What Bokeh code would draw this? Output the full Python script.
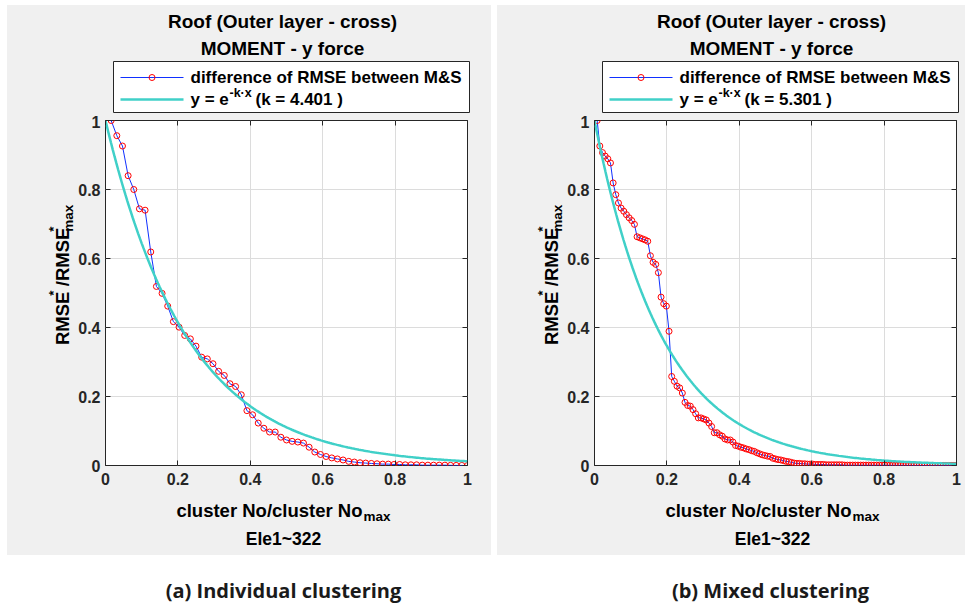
import math
import numpy as np
from bokeh.plotting import figure
from bokeh.models import (LinearAxis, FixedTicker, NumeralTickFormatter,
                          CustomJSTickFormatter, Spacer, Range1d)
from bokeh.layouts import row, column
from bokeh.embed import file_html
from bokeh.resources import INLINE
from bokeh.core.properties import value

# ---------------- data ----------------
title_line1 = "Roof (Outer layer - cross)"
title_line2 = "MOMENT - y force"
legend_diff = "difference of RMSE between M&S"
element_text = "Ele1~322"
captions = ["(a) Individual clustering", "(b) Mixed clustering"]
tick_values = [0, 0.2, 0.4, 0.6, 0.8, 1]

k_left = 4.401
k_right = 5.301

left_rmse = [1.0, 0.956, 0.926, 0.840, 0.800, 0.744, 0.740, 0.619, 0.519, 0.499,
             0.462, 0.417, 0.401, 0.377, 0.367, 0.346, 0.314, 0.309, 0.295, 0.273,
             0.261, 0.237, 0.229, 0.205, 0.159, 0.147, 0.123, 0.108, 0.097, 0.097,
             0.082, 0.074, 0.070, 0.068, 0.065, 0.053, 0.039, 0.032, 0.026, 0.022,
             0.019, 0.016, 0.012, 0.010, 0.008, 0.007, 0.006, 0.005, 0.004, 0.004,
             0.003, 0.003, 0.002, 0.002, 0.002, 0.001, 0.001, 0.001, 0.001, 0.001,
             0.0005, 0.0003, 0.0002, 0.0]

right_rmse = [1.0, 0.926, 0.907, 0.897, 0.889, 0.877, 0.819, 0.785, 0.761, 0.746,
              0.737, 0.727, 0.718, 0.710, 0.699, 0.663, 0.660, 0.657, 0.654, 0.650,
              0.608, 0.589, 0.583, 0.559, 0.488, 0.469, 0.462, 0.389, 0.258, 0.244,
              0.230, 0.225, 0.210, 0.183, 0.174, 0.172, 0.162, 0.150, 0.138, 0.138,
              0.135, 0.132, 0.123, 0.113, 0.095, 0.095, 0.089, 0.085, 0.077, 0.074,
              0.074, 0.068, 0.058, 0.056, 0.053, 0.051, 0.048, 0.046, 0.043, 0.041,
              0.037, 0.034, 0.031, 0.029, 0.027, 0.026, 0.021, 0.019, 0.017, 0.016,
              0.014, 0.012, 0.011, 0.009, 0.007, 0.006, 0.006, 0.005, 0.005, 0.004,
              0.004, 0.004, 0.003, 0.003, 0.003, 0.003, 0.002, 0.002, 0.002, 0.002,
              0.002, 0.002, 0.002, 0.001, 0.001, 0.001, 0.001, 0.001, 0.001, 0.001,
              0.001, 0.001, 0.001, 0.001, 0.001, 0.001, 0.001, 0.001, 0.001, 0.001,
              0.0008, 0.0008, 0.0007, 0.0007, 0.0006, 0.0006, 0.0005, 0.0005, 0.0004, 0.0004,
              0.0003, 0.0003, 0.0003, 0.0002, 0.0002, 0.0002, 0.0002, 0.0001, 0.0001, 0.0001,
              0.0001, 0.0001, 0.00005, 0.00005, 0.00002, 0.0]

# ---------------- style / layout ----------------
FONT = "Liberation Sans"
GREY = "#f0f0f0"
AXC = "#262626"
BLUE = "#1030ff"
RED = "#ff0000"
CYAN = "#40d0c8"
FW, FH = 362, 345           # plot frame size (px)
HEAD_H, MID_H, FOOT_H = 110, 378, 62
TOP_B, BOT_B, TICK_B = 5, 28, 30   # borders of the plot figure
GREY_STYLE = {"background-color": GREY}


def deco_fig(w, h, xr, yr):
    f = figure(width=w, height=h, x_range=Range1d(*xr), y_range=Range1d(*yr),
               min_border=0, toolbar_location=None, output_backend="svg",
               x_axis_location=None, y_axis_location=None)
    f.grid.visible = False
    f.outline_line_color = None
    f.background_fill_color = GREY
    f.border_fill_color = GREY
    return f


def txt(f, x, y, s, size, align="center", baseline="middle", angle=0.0, color="#000000"):
    f.text(x=[x], y=[y], text=[s], text_font=value(FONT),
           text_font_size=f"{size}px", text_font_style="bold",
           text_align=align, text_baseline=baseline, angle=angle,
           text_color=color)


def make_panel(rmse, k, width, L):
    """L = distance (px) from panel left edge to the plot frame."""
    ylab_w = L - TICK_B
    right_b = width - L - FW

    # ---------- header: titles + legend ----------
    head = deco_fig(width, HEAD_H, (-L, width - L), (FH + TOP_B, FH + TOP_B + HEAD_H))
    txt(head, 177, 444, title_line1, 19)
    txt(head, 177, 417, title_line2, 19)
    head.quad(left=[8], right=[364], bottom=[353], top=[404],
              fill_color="white", line_color=AXC, line_width=1)
    r1, r2 = 388, 366
    head.line([15, 78], [r1, r1], line_color=BLUE, line_width=1)
    head.scatter([46.5], [r1], marker="circle", size=6, fill_color=None,
                 line_color=RED, line_width=1)
    txt(head, 85, r1, legend_diff, 17, align="left")
    head.line([15, 78], [r2, r2], line_color=CYAN, line_width=2.5)
    txt(head, 85, r2, "y = e", 17, align="left")
    txt(head, 124, r2 + 7, "-k\u00b7x", 12.5, align="left")
    txt(head, 150, r2, f"(k = {k} )", 17, align="left")

    # ---------- y label ----------
    ylab = deco_fig(ylab_w, MID_H, (-L, -TICK_B), (-BOT_B, FH + TOP_B))
    a = math.pi / 2
    txt(ylab, -43, 104, "RMSE", 18.5, align="left", baseline="alphabetic", angle=a)
    txt(ylab, -52, 158, "*", 13.5, align="left", baseline="alphabetic", angle=a)
    txt(ylab, -43, 168.5, "/RMSE", 18.5, align="left", baseline="alphabetic", angle=a)
    txt(ylab, -52, 228, "*", 13.5, align="left", baseline="alphabetic", angle=a)
    txt(ylab, -37, 228, "max", 13.5, align="left", baseline="alphabetic", angle=a)

    # ---------- plot ----------
    n = len(rmse)
    cluster_ratio = [(i + 1) / n for i in range(n)]
    p = figure(width=width - ylab_w, height=MID_H, output_backend="svg",
               toolbar_location=None, x_range=Range1d(0, 1), y_range=Range1d(0, 1),
               min_border_left=TICK_B, min_border_right=right_b,
               min_border_top=TOP_B, min_border_bottom=BOT_B)
    p.border_fill_color = GREY
    p.background_fill_color = "white"
    p.outline_line_color = AXC
    p.outline_line_width = 1
    for ax, standoff in [(p.xaxis[0], 7), (p.yaxis[0], 5)]:
        ax.ticker = FixedTicker(ticks=tick_values)
        ax.formatter = NumeralTickFormatter(format="0.[0]")
        ax.major_tick_in = 5
        ax.major_tick_out = 0
        ax.minor_tick_line_color = None
        ax.axis_line_color = None
        ax.major_tick_line_color = AXC
        ax.major_label_text_font = FONT
        ax.major_label_text_font_style = "bold"
        ax.major_label_text_font_size = "16px"
        ax.major_label_text_color = AXC
        ax.major_label_standoff = standoff
    for loc in ["above", "right"]:
        ax = LinearAxis(ticker=FixedTicker(ticks=tick_values),
                        formatter=CustomJSTickFormatter(code="return ''"),
                        major_label_text_font_size="1px", major_label_standoff=0,
                        major_tick_in=5, major_tick_out=0,
                        minor_tick_line_color=None, axis_line_color=None,
                        major_tick_line_color=AXC)
        p.add_layout(ax, loc)
    p.xgrid.ticker = FixedTicker(ticks=tick_values)
    p.ygrid.ticker = FixedTicker(ticks=tick_values)
    p.grid.grid_line_color = "#dcdcdc"
    p.grid.grid_line_width = 1

    p.line(cluster_ratio, rmse, line_color=BLUE, line_width=1)
    p.scatter(cluster_ratio, rmse, marker="circle", size=6,
              fill_color=None, line_color=RED, line_width=1)
    xc = np.linspace(0, 1, 201)
    p.line(xc, np.exp(-k * xc), line_color=CYAN, line_width=2.5)

    # ---------- footer: x label + element text ----------
    foot = deco_fig(width, FOOT_H, (-L, width - L), (-BOT_B - FOOT_H, -BOT_B))
    txt(foot, 257, -45, "cluster No/cluster No", 18.5, align="right", baseline="alphabetic")
    txt(foot, 258, -51, "max", 13.5, align="left", baseline="alphabetic")
    txt(foot, 178, -73, element_text, 17.5)

    mid = row(ylab, p, styles=GREY_STYLE)
    return column(head, mid, foot, styles=GREY_STYLE)


panel1 = make_panel(left_rmse, k_left, 484, 98)
panel2 = make_panel(right_rmse, k_right, 468, 97)

cap = figure(width=968, height=50, output_backend="svg", toolbar_location=None,
             x_range=Range1d(0, 968), y_range=Range1d(0, 50), min_border=0,
             x_axis_location=None, y_axis_location=None)
cap.grid.visible = False
cap.outline_line_color = None
cap.border_fill_color = "white"
cap.text(x=[283, 770], y=[15, 15], text=captions, text_font=value("Open Sans"),
         text_font_style="bold", text_font_size="20px", text_align="center",
         text_baseline="middle", text_color="#1a1a1a")

layout = column(Spacer(width=968, height=5),
                row(Spacer(width=7, height=550), panel1,
                    Spacer(width=6, height=550), panel2),
                cap)

open("out.html", "w").write(file_html(layout, INLINE))
